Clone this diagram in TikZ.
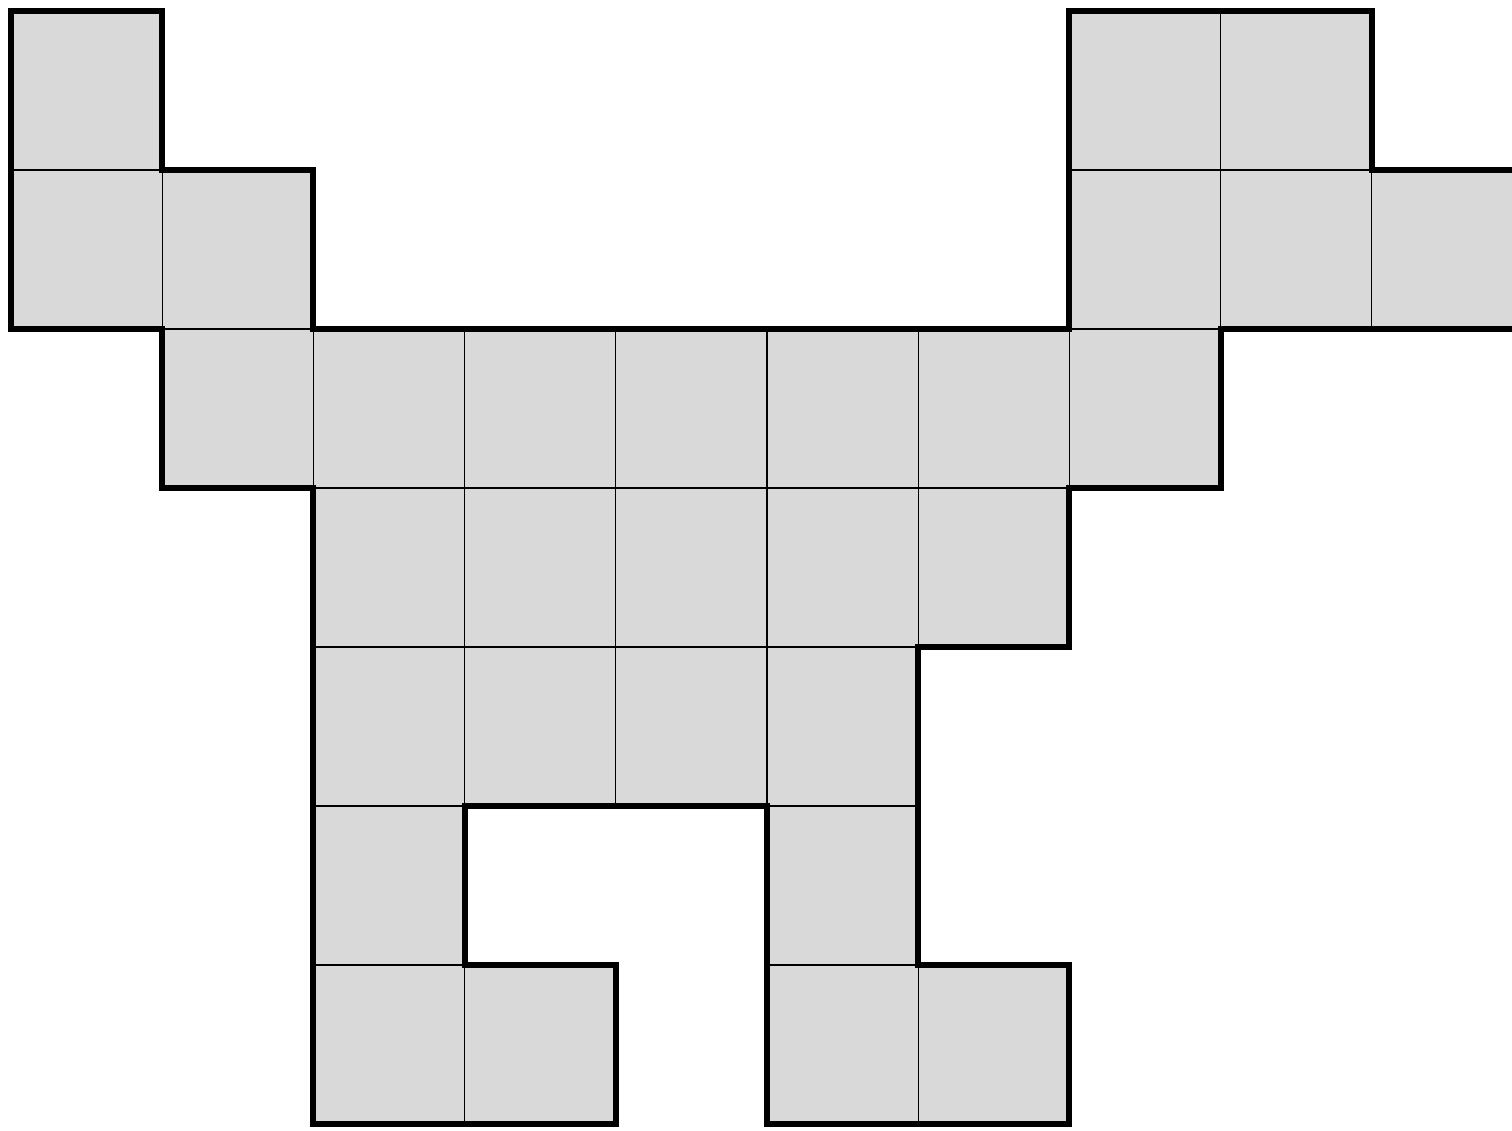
\documentclass[tikz,border=0pt]{standalone}
\definecolor{cellgray}{HTML}{D9D9D9}
\begin{document}
\begin{tikzpicture}[x=1bp,y=-1bp]
\useasboundingbox (0,0) rectangle (1512,1130);
\tikzset{
  cell/.style={fill=cellgray,draw=black,line width=1.2bp},
  outline/.style={draw=black,line width=6bp,line join=miter}
}
\begin{scope}[xshift=11bp,yshift=-11bp,x=151.2bp,y=-159bp]
\foreach \c/\r in {0/0,7/0,8/0,
                   0/1,1/1,7/1,8/1,9/1,
                   1/2,2/2,3/2,4/2,5/2,6/2,7/2,
                   2/3,3/3,4/3,5/3,6/3,
                   2/4,3/4,4/4,5/4,
                   2/5,5/5,
                   2/6,3/6,5/6,6/6}
  \draw[cell] (\c,\r) rectangle ++(1,1);
\draw[outline] (0,0) -- (1,0) -- (1,1) -- (2,1) -- (2,2) -- (7,2) -- (7,0)
  -- (9,0) -- (9,1) -- (10,1) -- (10,2) -- (8,2) -- (8,3) -- (7,3) -- (7,4)
  -- (6,4) -- (6,6) -- (7,6) -- (7,7) -- (5,7) -- (5,5) -- (3,5) -- (3,6)
  -- (4,6) -- (4,7) -- (2,7) -- (2,3) -- (1,3) -- (1,2) -- (0,2) -- cycle;
\end{scope}
\end{tikzpicture}
\end{document}
